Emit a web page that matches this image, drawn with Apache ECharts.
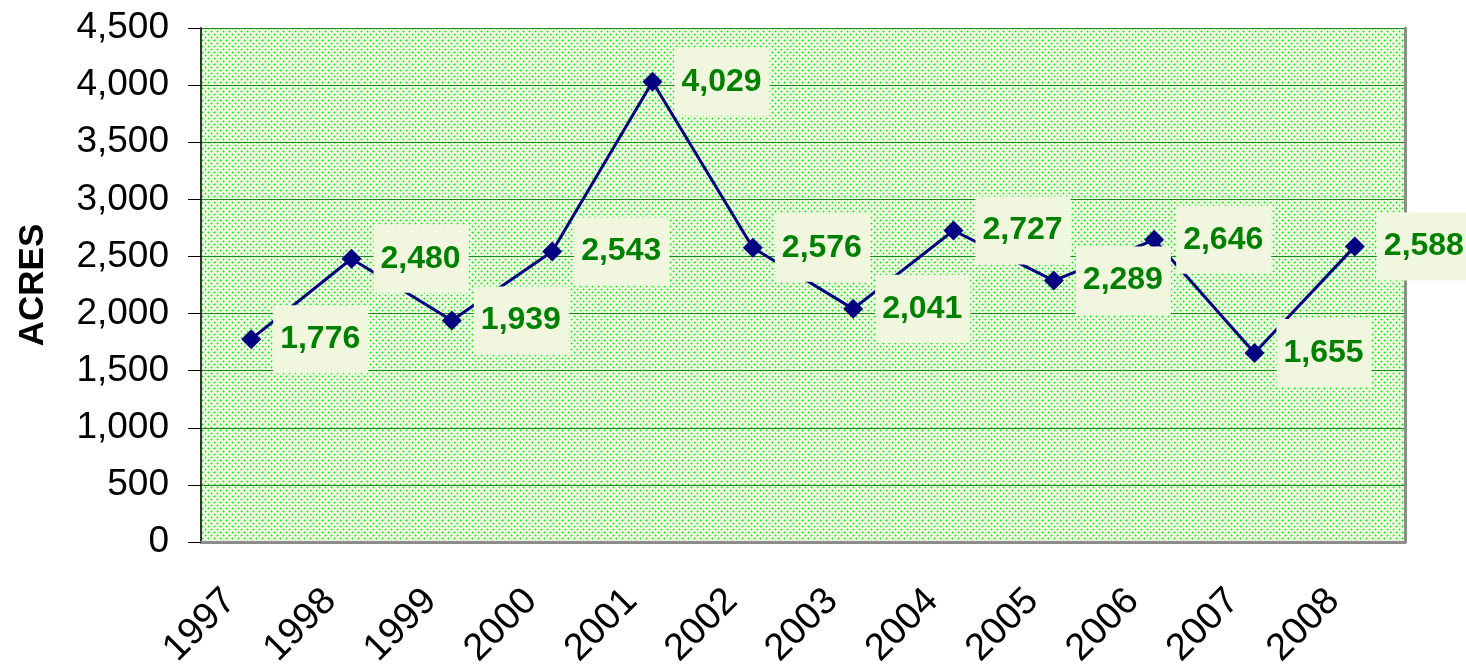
<!DOCTYPE html>
<html>
<head>
	<meta charset="utf-8" />
	<title>ACRES 1997-2008</title>
	<style>
		html, body { margin: 0; padding: 0; background: #fff; }
		#chart { width: 1466px; height: 666px; }
	</style>
</head>
<body>
	<div id="chart"></div>
	<script src="https://cdn.jsdelivr.net/npm/echarts@6.0.0/dist/echarts.min.js"></script>
	<script>
		const years = ['1997', '1998', '1999', '2000', '2001', '2002', '2003', '2004', '2005', '2006', '2007', '2008'];
		const acres = [1776, 2480, 1939, 2543, 4029, 2576, 2041, 2727, 2289, 2646, 1655, 2588];

		// dotted green fill like the old spreadsheet pattern
		const tile = document.createElement('canvas');
		tile.width = 6;
		tile.height = 6;
		const tctx = tile.getContext('2d');
		tctx.fillStyle = '#f2f9e2';
		tctx.fillRect(0, 0, 6, 6);
		[[1, 1], [4, 4]].forEach(function (d) {
			tctx.fillStyle = '#8ef88a';
			tctx.fillRect(d[0] - 1, d[1], 3, 1);
			tctx.fillRect(d[0], d[1] - 1, 1, 3);
			tctx.fillStyle = '#00f000';
			tctx.fillRect(d[0], d[1], 1, 1);
		});

		const fmt = function (v) {
			return String(v).replace(/\B(?=(\d{3})+(?!\d))/g, ',');
		};

		const chart = echarts.init(document.getElementById('chart'));

		const opt = {
			animation: false,
			textStyle: { fontFamily: 'Liberation Sans, Arial, sans-serif' },
			grid: {
				left: 201,
				right: 61,
				top: 28,
				bottom: 124,
				outerBoundsMode: 'none',
				show: true,
				borderWidth: 0,
				backgroundColor: { image: tile, repeat: 'repeat' }
			},
			xAxis: [{
				type: 'category',
				data: years,
				boundaryGap: true,
				axisLine: { lineStyle: { color: '#000', width: 2 } },
				axisTick: { length: 12, lineStyle: { color: '#666', width: 2 } },
				axisLabel: {
					rotate: 45,
					fontSize: 38,
					color: '#000',
					margin: 32,
					padding: [0, 30, 0, 0]
				},
				splitLine: { show: false }
			}, {
				type: 'category',
				data: years,
				position: 'top',
				axisLine: { lineStyle: { color: '#8c8c8c', width: 3 } },
				axisTick: { show: false },
				axisLabel: { show: false }
			}],
			yAxis: [{
				type: 'value',
				min: 0,
				max: 4500,
				interval: 500,
				name: 'ACRES',
				nameLocation: 'middle',
				nameGap: 150,
				nameTextStyle: { fontSize: 35, fontWeight: 'bold', color: '#000' },
				axisLine: { show: true, lineStyle: { color: '#333', width: 2 } },
				axisTick: { show: true, length: 13, lineStyle: { color: '#000' } },
				axisLabel: {
					fontSize: 37,
					color: '#000',
					margin: 32,
					formatter: fmt
				},
				splitLine: { lineStyle: { color: '#1a8a1a', width: 1 } }
			}, {
				type: 'value',
				min: 0,
				max: 4500,
				interval: 500,
				position: 'right',
				axisLine: { show: true, lineStyle: { color: '#8c8c8c', width: 3 } },
				axisTick: { show: false },
				axisLabel: { show: false },
				splitLine: { show: false }
			}],
			series: [{
				type: 'line',
				data: acres,
				symbol: 'diamond',
				symbolSize: 20,
				lineStyle: { color: '#000080', width: 3 },
				itemStyle: { color: '#000080' },
				label: {
					show: true,
					position: 'right',
					distance: 12,
					formatter: function (p) { return fmt(p.value); },
					fontSize: 32,
					fontWeight: 'bold',
					color: '#008000',
					backgroundColor: '#f0f7de',
					padding: [16, 8, 20, 7]
				}
			}]
		};

		chart.setOption(opt);
	</script>
</body>
</html>
